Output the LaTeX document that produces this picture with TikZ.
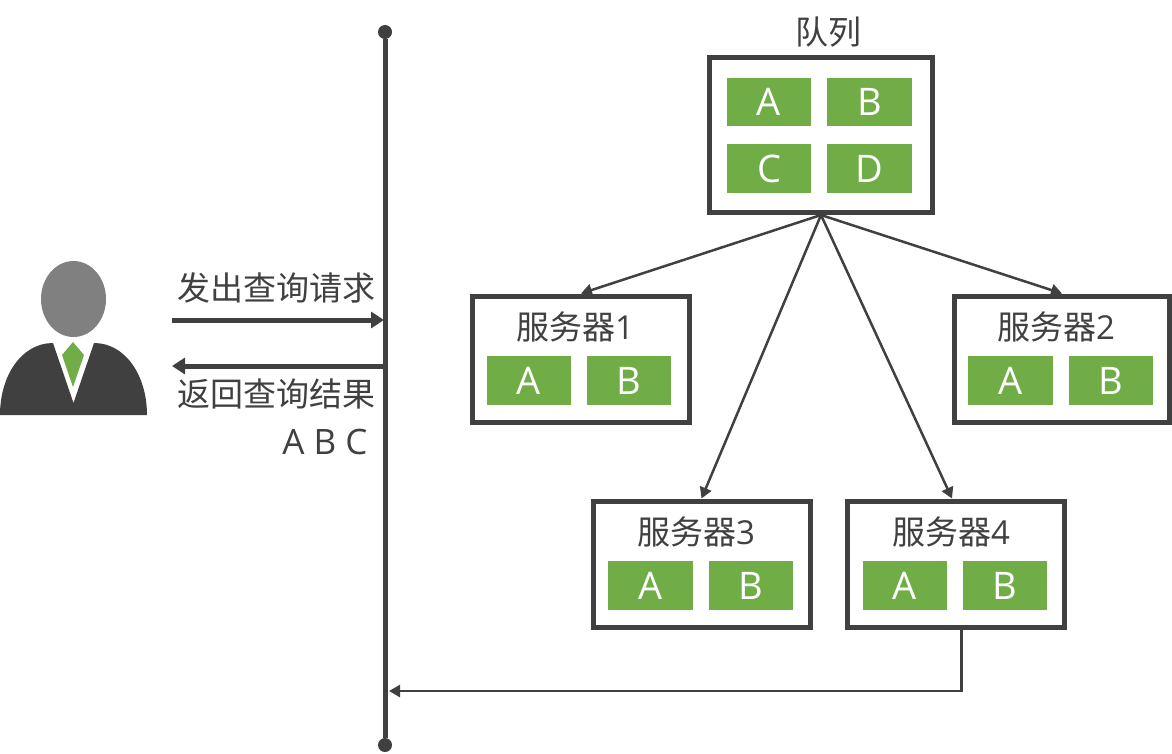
\documentclass[tikz,border=0pt]{standalone}
\usepackage{fontspec}
\setmainfont{Open Sans}
\newfontfamily\cjk{Noto Sans CJK SC}
\usetikzlibrary{arrows.meta,calc,shapes.geometric}
\definecolor{dark}{HTML}{404040}
\definecolor{leaf}{HTML}{70AD47}
\definecolor{headgray}{HTML}{808080}
\tikzset{
  x=1pt,y=-1pt,
  box/.style={draw=dark,line width=5pt,fill=white,inner sep=0pt},
  srv/.style={box,minimum width=217pt,minimum height=126pt},
  cell/.style={fill=leaf,text=white,inner sep=0pt,minimum width=84.5pt,minimum height=48.5pt,font=\fontsize{38}{38}\selectfont},
  lab/.style={text=dark,inner sep=0pt,font=\fontsize{33}{33}\selectfont},
  thin arrow/.style={draw=dark,line width=2.5pt,-{Triangle[length=11pt,width=12pt]}},
  bold arrow/.style={draw=dark,line width=5pt,-{Triangle[length=13pt,width=16pt]}},
  dot/.style={circle,fill=dark,inner sep=0pt,minimum size=14pt},
}
\begin{document}
\begin{tikzpicture}
\useasboundingbox (0,0) rectangle (1172,753);
% axis
\node[dot] (top) at (385,32) {};
\node[dot] (bot) at (385,745) {};
\draw[dark,line width=5pt] (top) -- (bot);
% person
\node[ellipse,fill=headgray,inner sep=0pt,minimum width=65pt,minimum height=76pt] (head) at (73.5,299) {};
\fill[dark] (0,415) .. controls (0,375) and (22,343) .. (53,343) -- (73.5,403) -- (94,343)
  .. controls (125,343) and (147,375) .. (147,415) -- cycle;
\fill[leaf] (73,342) -- (84,355) -- (73,387) -- (62,355) -- cycle;
% request / response
\coordinate (reqs) at (172,320);
\coordinate (reqe) at (384,320);
\coordinate (ress) at (384,366);
\coordinate (rese) at (172,366);
\draw[bold arrow] (reqs) -- (reqe);
\draw[bold arrow] (ress) -- (rese);
\node[lab] (reqt) at (276,288) {\cjk 发出查询请求};
\node[lab] (rest) at (276,394) {\cjk 返回查询结果};
\node[lab,font=\fontsize{35}{35}\selectfont] (abc) at (325,442) {A B C};
% queue
\node[box,minimum width=223pt,minimum height=155pt] (queue) at (821,135) {};
\node[lab] (qt) at (828,32) {\cjk 队列};
\node[cell] (qa) at (769,102) {A};
\node[cell] (qb) at (869.5,102) {B};
\node[cell] (qc) at (769,168.5) {C};
\node[cell] (qd) at (869.5,168.5) {D};
% servers
\node[srv] (s1) at (581,359) {};
\node[lab] (s1t) at (575,327) {{\cjk 服务器}1};
\node[cell] (s1a) at (529,380.5) {A};
\node[cell] (s1b) at (629,380.5) {B};
\node[srv,minimum width=215pt] (s2) at (1062,359) {};
\node[lab] (s2t) at (1056,327) {{\cjk 服务器}2};
\node[cell] (s2a) at (1010.5,380.5) {A};
\node[cell] (s2b) at (1111,380.5) {B};
\node[srv] (s3) at (701.5,564) {};
\node[lab] (s3t) at (696,532) {{\cjk 服务器}3};
\node[cell] (s3a) at (650.5,585.5) {A};
\node[cell] (s3b) at (751,585.5) {B};
\node[srv] (s4) at (956,564) {};
\node[lab] (s4t) at (951,532) {{\cjk 服务器}4};
\node[cell] (s4a) at (905,585.5) {A};
\node[cell] (s4b) at (1005,585.5) {B};
% connectors
\draw[thin arrow] (queue.south) -- (s1.north);
\draw[thin arrow] (queue.south) -- (s2.north);
\draw[thin arrow] (queue.south) -- (s3.north);
\draw[thin arrow] (queue.south) -- ($(s4.north)+(-4,0)$);
\coordinate (back) at (389,691);
\draw[thin arrow] ($(s4.south)+(5.5,0)$) |- (back);
\end{tikzpicture}
\end{document}
